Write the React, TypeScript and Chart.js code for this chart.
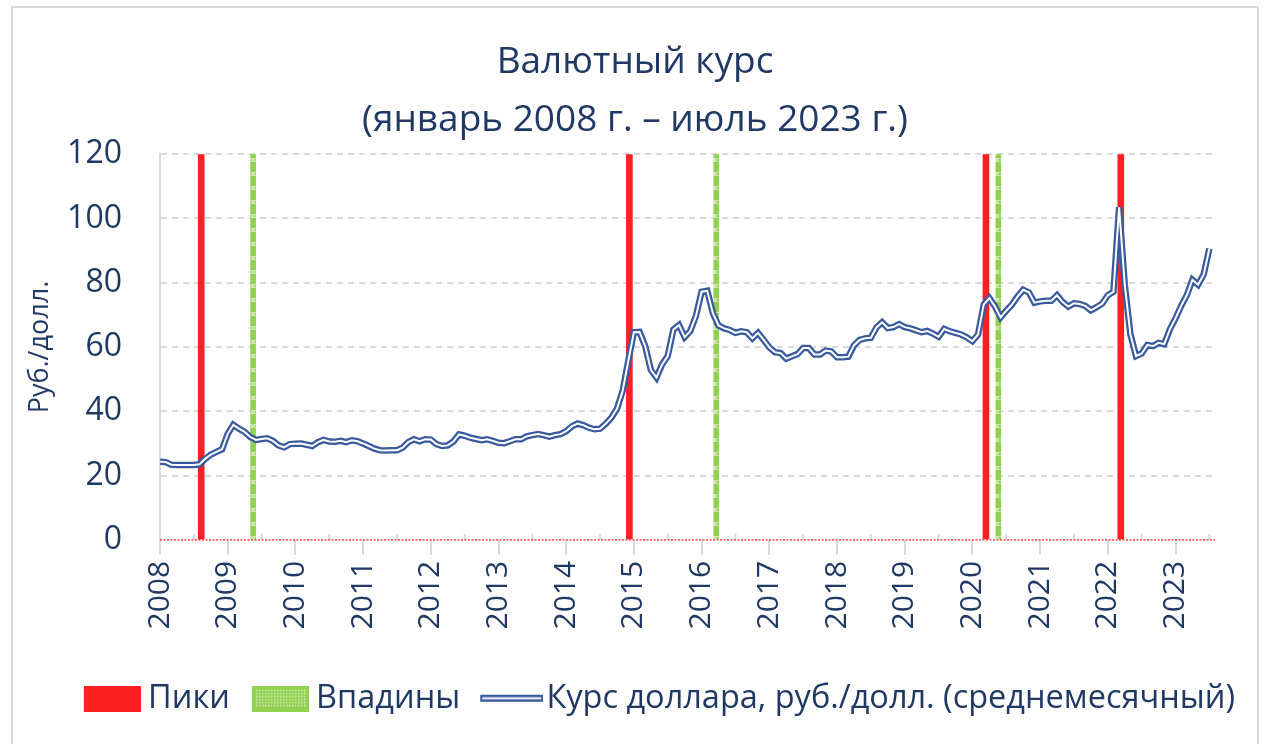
import React, { useEffect, useRef } from 'react';
import { Chart, registerables } from 'chart.js';

Chart.register(...registerables);

// ---- Data ----
const years = [2008, 2009, 2010, 2011, 2012, 2013, 2014, 2015, 2016, 2017, 2018, 2019, 2020, 2021, 2022, 2023];

const rate2008 = [24.3, 24.2, 23.4, 23.3, 23.3, 23.3, 23.3, 23.5, 25.2, 26.5, 27.4, 28.2];
const rate2009 = [33.0, 35.8, 34.6, 33.6, 32.0, 31.1, 31.4, 31.6, 30.8, 29.4, 28.8, 29.8];
const rate2010 = [29.9, 30.0, 29.6, 29.2, 30.4, 31.1, 30.6, 30.5, 30.8, 30.4, 31.0, 30.7];
const rate2011 = [30.0, 29.2, 28.4, 27.9, 27.8, 27.9, 27.9, 28.7, 30.4, 31.3, 30.7, 31.3];
const rate2012 = [31.2, 29.8, 29.2, 29.4, 30.6, 32.8, 32.4, 31.8, 31.4, 31.0, 31.3, 30.8];
const rate2013 = [30.2, 30.1, 30.7, 31.3, 31.3, 32.2, 32.6, 32.9, 32.6, 32.1, 32.6, 32.9];
const rate2014 = [33.8, 35.3, 36.2, 35.7, 34.9, 34.4, 34.6, 36.1, 38.0, 40.8, 46.3, 55.6];
const rate2015 = [64.6, 64.7, 60.3, 52.9, 50.5, 54.6, 57.2, 65.4, 66.8, 63.1, 65.0, 69.7];
const rate2016 = [77.2, 77.5, 70.5, 66.7, 65.8, 65.3, 64.4, 64.9, 64.6, 62.7, 64.4, 62.2];
const rate2017 = [59.9, 58.4, 58.1, 56.4, 57.1, 57.8, 59.7, 59.7, 57.7, 57.7, 58.9, 58.6];
const rate2018 = [56.8, 56.8, 57.0, 60.5, 62.2, 62.7, 62.9, 66.1, 67.7, 65.9, 66.2, 67.1];
const rate2019 = [66.2, 65.8, 65.2, 64.6, 65.0, 64.2, 63.2, 65.6, 64.9, 64.4, 63.9, 63.0];
const rate2020 = [61.8, 63.9, 73.2, 75.2, 72.6, 69.2, 71.3, 73.2, 75.7, 77.8, 77.0, 73.8];
const rate2021 = [74.2, 74.4, 74.4, 76.1, 74.0, 72.6, 73.6, 73.4, 72.8, 71.4, 72.4, 73.5];
const rate2022 = [76.1, 77.2, 103.5, 79.5, 64.0, 57.2, 58.0, 60.6, 60.3, 61.3, 60.9, 65.5];
const rate2023 = [68.9, 72.8, 76.1, 80.9, 79.4, 82.6, 90.6];

const usdRub = [
  ...rate2008, ...rate2009, ...rate2010, ...rate2011, ...rate2012, ...rate2013, ...rate2014, ...rate2015,
  ...rate2016, ...rate2017, ...rate2018, ...rate2019, ...rate2020, ...rate2021, ...rate2022, ...rate2023,
];

// positions in months since January 2008
const peakMonths = [7.3, 83.2, 146.4, 170.3];
const troughMonths = [16.5, 98.6, 148.6];
const barHeight = 120;

const titleLines = ['Валютный курс', '(январь 2008 г. – июль 2023 г.)'];
const yTitle = 'Руб./долл.';
const peakLabel = 'Пики';
const troughLabel = 'Впадины';
const lineLabel = 'Курс доллара, руб./долл. (среднемесячный)';

const NAVY = '#1F3864';
const LINE_BLUE = '#3A5A9E';
const RED = '#FF2121';
const GREEN = '#92D050';
const GRID = '#D9D9D9';
const FONT = "'Open Sans', sans-serif";

function makeCanvas(w: number, h: number) {
  const c = document.createElement('canvas');
  c.width = w;
  c.height = h;
  return c;
}

function greenPattern(ctx: CanvasRenderingContext2D) {
  const c = makeCanvas(6, 14);
  const g = c.getContext('2d')!;
  g.fillStyle = '#C9E6A6';
  g.fillRect(0, 0, 6, 14);
  g.fillStyle = GREEN;
  g.fillRect(0, 0, 6, 10);
  g.fillRect(2, 11, 2, 2);
  return ctx.createPattern(c, 'repeat')!;
}

export default function App() {
  const ref = useRef<HTMLCanvasElement | null>(null);

  useEffect(() => {
    const canvas = ref.current;
    if (!canvas) return;
    const ctx = canvas.getContext('2d')!;

    // legend images
    const boxW = 48;
    const redImg = makeCanvas(66, 26);
    {
      const g = redImg.getContext('2d')!;
      g.fillStyle = RED;
      g.fillRect(9, 0, 57, 26);
    }
    const greenImg = makeCanvas(66, 26);
    {
      const g = greenImg.getContext('2d')!;
      g.fillStyle = GREEN;
      g.fillRect(9, 0, 57, 26);
      g.fillStyle = '#D7EEC0';
      for (let yy = 4; yy < 22; yy += 3) {
        for (let xx = 13; xx < 62; xx += 3) g.fillRect(xx, yy, 1.5, 1.5);
      }
    }
    const lineImg = makeCanvas(74, 10);
    {
      const g = lineImg.getContext('2d')!;
      g.fillStyle = LINE_BLUE;
      g.fillRect(11, 1, 63, 7);
      g.fillStyle = '#FFFFFF';
      g.fillRect(13, 3.5, 59, 2);
    }

    const minorTicks = {
      id: 'minorTicks',
      afterDatasetsDraw(chart: any) {
        const xs = chart.scales.x;
        const ys = chart.scales.y;
        const y0 = ys.getPixelForValue(0);
        const c = chart.ctx;
        c.save();
        c.strokeStyle = GRID;
        c.lineWidth = 2;
        years.forEach((_, i) => {
          const v = i * 12 + 6;
          if (v > xs.max) return;
          const px = xs.getPixelForValue(v);
          c.beginPath();
          c.moveTo(px, y0);
          c.lineTo(px, y0 - 6);
          c.stroke();
        });
        // red dotted zero line
        c.strokeStyle = RED;
        c.lineWidth = 1.2;
        c.setLineDash([2, 1.5]);
        c.beginPath();
        c.moveTo(xs.left, y0);
        c.lineTo(xs.right, y0);
        c.stroke();
        c.restore();
      },
    };

    const lineData = usdRub.map((v, i) => ({ x: i, y: v }));

    const chart = new Chart(ctx, {
      type: 'line',
      data: {
        datasets: [
          {
            type: 'line',
            label: '_inner',
            data: lineData,
            borderColor: '#FFFFFF',
            borderWidth: 2,
            pointRadius: 0,
            tension: 0,
            order: 0,
          },
          {
            type: 'line',
            label: lineLabel,
            data: lineData,
            borderColor: LINE_BLUE,
            borderWidth: 6.5,
            pointRadius: 0,
            tension: 0,
            order: 1,
          },
          {
            type: 'bar',
            label: peakLabel,
            data: peakMonths.map((m) => ({ x: m, y: barHeight })),
            backgroundColor: RED,
            barThickness: 6,
            grouped: false,
            order: 2,
          } as any,
          {
            type: 'bar',
            label: troughLabel,
            data: troughMonths.map((m) => ({ x: m, y: barHeight })),
            backgroundColor: greenPattern(ctx),
            barThickness: 5,
            grouped: false,
            order: 3,
          } as any,
        ],
      },
      options: {
        animation: false,
        responsive: false,
        maintainAspectRatio: false,
        layout: { padding: { left: 0, right: 0, top: 0, bottom: 19 } },
        plugins: {
          tooltip: { enabled: false },
          title: {
            display: true,
            text: titleLines,
            color: NAVY,
            font: { family: FONT, size: 37, weight: 'normal', lineHeight: 1.57 },
            padding: { top: 25, bottom: 5 },
          },
          legend: {
            display: true,
            position: 'bottom',
            align: 'end',
            labels: {
              color: NAVY,
              font: { family: FONT, size: 32.5 },
              usePointStyle: true,
              pointStyleWidth: boxW,
              boxHeight: 26,
              padding: 22,
              generateLabels: () => [
                { text: peakLabel, pointStyle: redImg, fillStyle: RED, strokeStyle: 'rgba(0,0,0,0)', lineWidth: 0, hidden: false, datasetIndex: 2, fontColor: NAVY },
                { text: troughLabel, pointStyle: greenImg, fillStyle: GREEN, strokeStyle: 'rgba(0,0,0,0)', lineWidth: 0, hidden: false, datasetIndex: 3, fontColor: NAVY },
                { text: lineLabel, pointStyle: lineImg, fillStyle: LINE_BLUE, strokeStyle: 'rgba(0,0,0,0)', lineWidth: 0, hidden: false, datasetIndex: 1, fontColor: NAVY },
              ] as any,
            },
          },
        },
        scales: {
          x: {
            type: 'linear',
            min: 0,
            max: 187,
            offset: false,
            afterBuildTicks: (scale: any) => {
              scale.ticks = years.map((_, i) => ({ value: i * 12 }));
            },
            afterFit: (scale: any) => {
              scale.height += 25;
            },
            ticks: {
              color: NAVY,
              font: { family: FONT, size: 30 },
              minRotation: 90,
              maxRotation: 90,
              autoSkip: false,
              padding: 6,
              callback: (v: any) => String(years[Math.round(Number(v) / 12)]),
            },
            grid: {
              drawOnChartArea: false,
              offset: false,
              color: GRID,
              lineWidth: 2,
              tickLength: 15,
              tickColor: GRID,
            },
            border: { display: false },
          },
          y: {
            min: 0,
            max: 120,
            afterFit: (scale: any) => {
              scale.width = 147;
            },
            ticks: {
              stepSize: 20,
              color: NAVY,
              font: { family: FONT, size: 32 },
              padding: 38,
            },
            grid: {
              drawTicks: false,
              color: (c: any) => (c.tick && c.tick.value === 0 ? 'rgba(0,0,0,0)' : GRID),
              lineWidth: 2,
            },
            border: { display: true, color: GRID, width: 2, dash: [6, 5] },
            title: {
              display: true,
              text: yTitle,
              color: NAVY,
              font: { family: FONT, size: 27 },
              padding: { top: 11, bottom: 1 },
            },
          },
          yRight: {
            position: 'right',
            min: 0,
            max: 1,
            display: true,
            afterFit: (scale: any) => {
              scale.width = 42;
            },
            ticks: { display: false },
            grid: { display: false, drawTicks: false },
            border: { display: false },
          },
        },
      },
      plugins: [minorTicks],
    } as any);

    return () => chart.destroy();
  }, []);

  return (
    <div
      style={{
        position: 'absolute',
        left: 11,
        top: 6,
        width: 1248,
        height: 760,
        border: '2px solid #D9D9D9',
        boxSizing: 'border-box',
        background: '#FFFFFF',
      }}
    >
      <canvas ref={ref} width={1244} height={736} style={{ display: 'block', width: 1244, height: 736 }} />
    </div>
  );
}
